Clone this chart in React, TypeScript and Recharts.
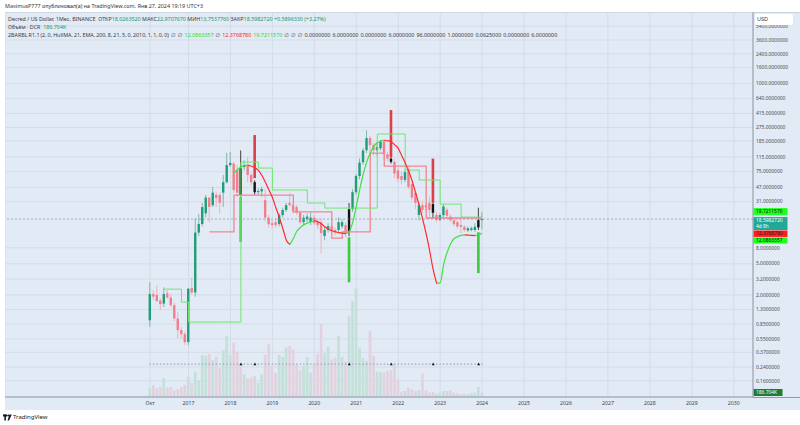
import React from 'react';
import {
  Bar,
  CartesianGrid,
  ComposedChart,
  Line,
  ReferenceLine,
  XAxis,
  YAxis,
} from 'recharts';

const FONT = '"Noto Sans", "DejaVu Sans", sans-serif';

// monthly candles, first slot .. Jan 2024 (96 bars)
const open = [
  0.95, 2.05, 2.0, 1.7, 1.55, 2.1, 1.85, 1.48, 1.0, 0.71, 0.63, 0.5,
  2.45, 2.15, 12.5, 16.1, 22, 35, 28, 38, 37.7, 40.5, 55, 91,
  95, 78.6, 83, 86, 91, 68, 55, 41, 42, 32.5, 19.4, 16.5,
  17, 16.1, 20.9, 24.3, 30, 28, 26.5, 22.5, 17, 18.5, 17, 19.4,
  17.5, 17, 11.3, 13.5, 15, 13.5, 13.5, 15, 15.6, 12.8, 24.8, 41,
  66, 99, 141, 201, 164, 141, 149, 183, 125, 110, 100, 78,
  66, 59, 80, 52, 40, 21, 28, 28, 30, 28.9, 21, 18.1,
  20.9, 24.5, 20, 18, 17, 15.6, 14.8, 13.3, 13.5, 13.5, 14.6, 18.026352,
];
const high = [
  2.9, 2.3, 2.67, 1.82, 2.5, 2.3, 2.05, 1.58, 1.2, 0.78, 0.68, 2.45,
  3.3, 19, 21.5, 30, 37.7, 35.6, 47.8, 41.5, 40.5, 68, 130, 134,
  100, 91, 140, 105, 116, 72, 58, 46, 48, 45, 21, 18,
  19, 22, 26, 30, 40, 30, 28, 24, 21, 22, 23, 21,
  19, 19, 15, 16.5, 16, 14.5, 19.5, 18.5, 17, 29.8, 45, 70,
  110, 150, 253, 215, 175, 175, 190, 195, 135, 115, 110, 85,
  75, 80, 85, 55, 42, 30, 32, 30, 36, 30, 23, 22,
  29, 26, 21.5, 19, 18, 19, 15.6, 15, 15, 16.5, 26, 22.970767,
];
const low = [
  0.78, 1.72, 1.62, 1.28, 1.4, 1.82, 1.4, 0.92, 0.56, 0.56, 0.46, 0.46,
  2.05, 1.9, 11.3, 15, 19.5, 17, 26.5, 26.5, 22, 26.5, 53, 86,
  40, 35.6, 36, 78, 55, 50, 38, 38, 36, 17.5, 14.5, 14.2,
  14.5, 15, 19.5, 23, 27, 22, 21, 16, 15.6, 17, 15.6, 15.5,
  14, 6.8, 10, 12.5, 12.5, 11.5, 12.5, 14, 11, 11.3, 23, 38,
  60, 92, 130, 130, 120, 120, 140, 105, 102, 95, 62, 55,
  52, 55, 45, 32, 25, 18, 22, 23, 19.5, 19, 17, 17.5,
  19.5, 19.5, 17, 15, 14, 12.3, 12.8, 12.8, 13, 12.8, 13.5, 13.753776,
];
const close = [
  2.05, 1.9, 1.67, 1.53, 2.05, 1.85, 1.48, 1.0, 0.71, 0.63, 0.5, 2.4,
  2.15, 12.5, 16.1, 26.5, 35, 26.5, 40.5, 34.5, 30, 55, 91, 97,
  43.7, 40.5, 37.7, 91, 68, 55, 41, 42.5, 45, 19.4, 16, 15.6,
  15.6, 20.9, 24.3, 28, 28, 23.5, 22.5, 17, 19.4, 20, 19.4, 16.5,
  15.6, 12.3, 13.5, 15.1, 13.5, 12.5, 17, 17, 12.3, 24.8, 41, 66,
  98, 140, 201, 164, 141, 155, 183, 125, 110, 100, 71, 61,
  59, 74, 48, 35, 30, 28, 24.5, 26, 24.3, 22.4, 18.1, 20.9,
  27, 20.5, 18, 16, 15, 14.8, 13.5, 14.2, 14.2, 14.8, 18.026352, 18.598272,
];
// volume, thousands
const volumeK = [
  378, 521, 378, 434, 812, 404, 434, 291, 347, 434, 521, 868,
  608, 1098, 694, 1823, 1779, 1853, 1593, 1736, 1272, 2027, 2647, 1823,
  2357, 1966, 1389, 985, 812, 838, 911, 621, 985, 1823, 2287, 1345,
  1055, 1823, 1736, 2140, 2213, 2070, 1419, 1159, 1345, 1736, 1055, 1419,
  1866, 3168, 1879, 2170, 1636, 1706, 2647, 1736, 1532, 3515, 4166, 4687,
  2140, 1680, 1562, 2864, 1779, 1098, 1098, 1055, 1128, 1159, 1419, 725,
  230, 260, 404, 334, 260, 291, 1011, 291, 187, 217, 143, 187,
  260, 260, 291, 187, 161, 117, 143, 117, 161, 187, 434, 186.704,
];
const hull = [
  null, null, null, null, null, null, null, null, null, null, null, null,
  null, null, null, null, null, null, null, null, null, null, null, null,
  72, 80, 86, 90, 91, 88, 84, 78, 67, 55, 44, 35,
  26, 19.5, 14, 10, 8.8, 10.5, 13, 14.5, 15.8, 16.5, 17.2, 17.6,
  17.2, 16.2, 14.8, 13.8, 13.2, 12.8, 12.5, 12.3, 12.1, 13, 17, 27,
  45, 70, 100, 130, 158, 175, 185, 189, 186, 181, 165, 149,
  120, 97, 76, 57, 40, 28, 18.5, 12, 7.3, 4.2, 2.8, 2.85,
  4.9, 7, 9, 10.5, 11.1, 11.5, 11.7, 11.6, 11.5, 11.45, 11.8, 12.2,
];
const upperStep = [
  null, null, null, null, 2.37, 2.37, 2.37, 2.37, 2.37, 1.62, 1.62, 0.9,
  0.9, 0.9, 0.9, 0.9, 0.9, 0.9, 0.9, 0.9, 0.9, 0.9, 0.9, 0.9,
  0.9, 0.9, 99.5, 99.5, 99.5, 99.5, 99.5, 83.4, 83.4, 83.4, 83.4, 43.7,
  43.7, 43.7, 43.7, 43.7, 43.7, 43.7, 43.7, 43.7, 43.7, 29.8, 29.8, 29.8,
  29.8, 29.8, 25.7, 25.7, 25.7, 25.7, 25.7, 25.7, 25.7, 25.7, 25.7, 25.7,
  25.7, 25.7, 25.7, 25.7, 25.7, 226.8, 226.8, 226.8, 226.8, 226.8, 226.8, 226.8,
  226.8, 78.7, 78.7, 78.7, 78.7, 58.6, 58.6, 58.6, 58.6, 58.6, 58.6, 28.9,
  28.9, 28.9, 28.9, 28.9, 28.9, 19.72, 19.72, 19.72, 19.72, 19.72, 19.72, 19.72,
];
const lowerStep = [
  null, null, null, null, null, null, null, null, null, null, null, null,
  null, null, null, null, null, 12.8, 12.8, 12.8, 12.8, 12.8, 12.8, 12.8,
  37.7, 37.7, 37.7, 37.7, 37.7, 37.7, 37.7, 37.7, 37.7, 37.7, 37.7, 37.7,
  37.7, 37.7, 37.7, 37.7, 37.7, 23, 23, 23, 23, 23, 23, 23,
  23, 23, 23, 23, 10.6, 10.6, 10.6, 12.8, 12.8, 12.8, 12.8, 12.8,
  12.8, 12.8, 12.8, 129.6, 129.6, 129.6, 129.6, 88.5, 88.5, 88.5, 88.5, 88.5,
  88.5, 88.5, 88.5, 88.5, 88.5, 88.5, 88.5, 19.2, 19.2, 19.2, 19.2, 19.2,
  19.2, 19.2, 19.2, 19.2, 19.2, 19.2, 19.2, 19.2, 19.2, 19.2, 19.2, 19.2,
];
const blackBars = [26, 30, 57, 69, 81, 94];
const greenSignals = [
  { at: 26, from: 9.5, to: 35.6 },
  { at: 57, from: 2.9, to: 10.9 },
  { at: 94, from: 3.8, to: 12.6 },
];
const redSignals = [
  { at: 30, from: 62, to: 220 },
  { at: 69, from: 115, to: 459 },
  { at: 81, from: 30, to: 110 },
];
const markerLevel = 1430;

const priceTicks = [
  5400, 3600, 2400, 1600, 1000, 640, 415, 275, 185, 115, 75, 47, 31, 8, 5, 3.2,
  2, 1.3, 0.85, 0.55, 0.37, 0.24, 0.16,
];
const timeTicks = [0, 11, 23, 35, 47, 59, 71, 83, 95, 107, 119, 131, 143, 155, 167];
const timeLabels = [
  'Окт', '2017', '2018', '2019', '2020', '2021', '2022', '2023', '2024', '2025',
  '2026', '2027', '2028', '2029', '2030',
];

const LEAD = 41;
const TRAIL = 77;

const hullUp = hull.map((v, i) => {
  if (v == null) return null;
  const p = hull[i - 1];
  const n = hull[i + 1];
  return (p != null && v >= p) || (n != null && n >= v) ? v : null;
});
const hullDown = hull.map((v, i) => {
  if (v == null) return null;
  const p = hull[i - 1];
  const n = hull[i + 1];
  return (p != null && v < p) || (n != null && n < v) ? v : null;
});

const rows: any[] = [];
for (let s = -LEAD; s < close.length + TRAIL; s++) {
  if (s < 0 || s >= close.length) {
    rows.push({ slot: s });
    continue;
  }
  const g = greenSignals.find((d) => d.at === s);
  const r = redSignals.find((d) => d.at === s);
  rows.push({
    slot: s,
    o: open[s],
    h: high[s],
    l: low[s],
    c: close[s],
    range: [low[s], high[s]],
    vol: volumeK[s],
    upper: upperStep[s],
    lower: lowerStep[s],
    hullUp: hullUp[s],
    hullDown: hullDown[s],
    marker: markerLevel,
    black: blackBars.includes(s),
    sigG: g,
    sigR: r,
  });
}

const labelOf: Record<number, string> = {};
timeTicks.forEach((t, k) => (labelOf[t] = timeLabels[k]));

const Candle = (props: any) => {
  const { x, y, width, height, payload } = props;
  if (!payload || payload.o == null || !isFinite(y) || !isFinite(height)) return <g />;
  const { o, h, l, c, black, sigG, sigR } = payload;
  const lh = Math.log(h);
  const span = lh - Math.log(l);
  const py = (v: number) => y + (height * (lh - Math.log(v))) / span;
  const cx = x + width / 2;
  const up = c >= o;
  const body = black ? '#141414' : up ? '#1f9d78' : '#f07f8b';
  const wick = black ? '#141414' : up ? '#6aa998' : '#f1a2ab';
  const top = py(Math.max(o, c));
  const bot = py(Math.min(o, c));
  return (
    <g>
      <line x1={cx} x2={cx} y1={y} y2={y + height} stroke={wick} strokeWidth={0.8} />
      <rect x={cx - 1.2} y={top} width={2.4} height={Math.max(0.8, bot - top)} fill={body} />
      {sigG && (
        <rect x={cx - 1.3} y={py(sigG.to)} width={2.6} height={py(sigG.from) - py(sigG.to)} fill="#3cc93c" />
      )}
      {sigR && (
        <rect x={cx - 1.3} y={py(sigR.to)} width={2.6} height={py(sigR.from) - py(sigR.to)} fill="#dd3f48" />
      )}
    </g>
  );
};

const VolumeBar = (props: any) => {
  const { x, y, width, height, payload } = props;
  if (!payload || payload.vol == null || !isFinite(y)) return <g />;
  const cx = x + width / 2;
  return (
    <rect
      x={cx - 1.35}
      y={y}
      width={2.7}
      height={height}
      fill={payload.c >= payload.o ? '#c3e1d8' : '#e2d2df'}
    />
  );
};

const MarkerDot = (props: any) => {
  const { cx, cy, payload, index } = props;
  if (cx == null || cy == null || !payload || payload.marker == null) return <g key={index} />;
  const dark = payload.black;
  const s = dark ? 1.5 : 1.1;
  return (
    <polygon
      key={index}
      points={`${cx},${cy - s} ${cx - s},${cy + s * 0.8} ${cx + s},${cy + s * 0.8}`}
      fill={dark ? '#151515' : '#a9b1bd'}
    />
  );
};

const PriceTag = ({ viewBox, text, sub, bg, fg, dy, h, w }: any) => {
  if (!viewBox) return null;
  const x = viewBox.x + viewBox.width + 0.5;
  const top = viewBox.y + dy;
  return (
    <g>
      <rect x={x} y={top} width={w} height={h} fill={bg} />
      <text x={x + 2.5} y={top + 4.9} fontSize={4.9} fill={fg} fontFamily={FONT}>
        {text}
      </text>
      {sub && (
        <text x={x + 2.5} y={top + 11} fontSize={4.9} fill={fg} fontFamily={FONT}>
          {sub}
        </text>
      )}
    </g>
  );
};

const G = ({ children }: any) => <span style={{ color: '#17996f' }}>{children}</span>;

export default function App() {
  return (
    <div
      style={{
        position: 'absolute',
        left: 0,
        top: 0,
        width: 800,
        height: 425,
        background: '#ffffff',
        fontFamily: FONT,
        overflow: 'hidden',
      }}
    >
      <div style={{ position: 'absolute', left: 5, top: 2, fontSize: 5.4, color: '#333', whiteSpace: 'nowrap' }}>
        MaximusP777 опубликовал(а) на TradingView.com, Янв 27, 2024 19:19 UTC+3
      </div>
      <div
        style={{
          position: 'absolute',
          left: 5,
          top: 12,
          width: 795,
          height: 398,
          background: '#e2eaf6',
          borderTop: '1px solid #c9d1dd',
          boxSizing: 'border-box',
        }}
      />
      <div style={{ position: 'absolute', left: 5, top: 12 }}>
        <ComposedChart
          width={795}
          height={398}
          data={rows}
          margin={{ top: 0, right: 0, bottom: 0, left: 0 }}
          barCategoryGap={0}
          barGap={0}
        >
          <CartesianGrid xAxisId="p" yAxisId="p" stroke="#d4dce8" strokeWidth={1} />
          <XAxis
            xAxisId="p"
            dataKey="slot"
            type="category"
            ticks={timeTicks}
            interval={0}
            tickFormatter={(v: number) => labelOf[v] ?? ''}
            height={13}
            tickSize={0}
            tickMargin={4}
            tickLine={false}
            axisLine={{ stroke: '#8e98a6' }}
            tick={{ fontSize: 5.2, fill: '#444' }}
          />
          <XAxis xAxisId="v" dataKey="slot" type="category" hide />
          <YAxis
            yAxisId="p"
            orientation="right"
            scale="log"
            domain={[0.0994, 8202]}
            allowDataOverflow
            ticks={priceTicks}
            interval={0}
            width={47}
            tickSize={0}
            tickMargin={3}
            tickLine={false}
            axisLine={{ stroke: '#8e98a6' }}
            tickFormatter={(v: number) => v.toFixed(7)}
            tick={{ fontSize: 4.9, fill: '#4a4a4a' }}
          />
          <YAxis yAxisId="v" hide domain={[0, 16666]} allowDataOverflow />
          <Bar
            xAxisId="v"
            yAxisId="v"
            dataKey="vol"
            shape={VolumeBar}
            isAnimationActive={false}
          />
          <Line
            xAxisId="v"
            yAxisId="v"
            dataKey="marker"
            stroke="none"
            dot={MarkerDot}
            activeDot={false}
            isAnimationActive={false}
          />
          <Bar xAxisId="p" yAxisId="p" dataKey="range" shape={Candle} isAnimationActive={false} />
          <Line
            xAxisId="p"
            yAxisId="p"
            dataKey="lower"
            type="stepAfter"
            stroke="#f3858f"
            strokeWidth={1.3}
            dot={false}
            isAnimationActive={false}
          />
          <Line
            xAxisId="p"
            yAxisId="p"
            dataKey="upper"
            type="stepAfter"
            stroke="#6be86b"
            strokeWidth={1}
            dot={false}
            isAnimationActive={false}
          />
          <Line
            xAxisId="p"
            yAxisId="p"
            dataKey="hullUp"
            type="monotone"
            stroke="#3fe23f"
            strokeWidth={1.2}
            dot={false}
            isAnimationActive={false}
          />
          <Line
            xAxisId="p"
            yAxisId="p"
            dataKey="hullDown"
            type="monotone"
            stroke="#ff2b2b"
            strokeWidth={1.2}
            dot={false}
            isAnimationActive={false}
          />
          <ReferenceLine
            xAxisId="p"
            yAxisId="p"
            y={19.721157}
            stroke="none"
            label={(p: any) => (
              <PriceTag viewBox={p.viewBox} text="19.7211570" bg="#1fff1f" fg="#111" dy={-9} h={7} w={34} />
            )}
          />
          <ReferenceLine
            xAxisId="p"
            yAxisId="p"
            y={18.598272}
            stroke="#8a95a6"
            strokeWidth={0.7}
            strokeDasharray="2 2"
            label={(p: any) => (
              <PriceTag viewBox={p.viewBox} text="18.5982720" sub="4d 8h" bg="#22a894" fg="#f4fffc" dy={-2} h={13} w={34} />
            )}
          />
          <ReferenceLine
            xAxisId="p"
            yAxisId="p"
            y={12.376878}
            stroke="none"
            label={(p: any) => (
              <PriceTag viewBox={p.viewBox} text="12.3768780" bg="#ff1e1e" fg="#222" dy={-2.4} h={6.4} w={34} />
            )}
          />
          <ReferenceLine
            xAxisId="p"
            yAxisId="p"
            y={12.0863357}
            stroke="none"
            label={(p: any) => (
              <PriceTag viewBox={p.viewBox} text="12.0863357" bg="#1fff1f" fg="#111" dy={3.8} h={6} w={34} />
            )}
          />
          <ReferenceLine
            xAxisId="v"
            yAxisId="v"
            y={186.704}
            stroke="none"
            label={(p: any) => (
              <PriceTag viewBox={p.viewBox} text="186.704K" bg="#1e7b2f" fg="#ffffff" dy={-3.7} h={7} w={29} />
            )}
          />
        </ComposedChart>
      </div>
      <div style={{ position: 'absolute', left: 753, top: 397, width: 47, height: 1, background: '#8e98a6' }} />
      <div
        style={{
          position: 'absolute',
          left: 755,
          top: 14,
          width: 38,
          height: 11,
          background: '#ffffff',
          borderRadius: 2,
          fontSize: 5.5,
          color: '#333',
          lineHeight: '11px',
          paddingLeft: 2,
          boxSizing: 'border-box',
        }}
      >
        USD
      </div>
      <div style={{ position: 'absolute', left: 8, top: 15, fontSize: 5.35, color: '#3a3a3a', whiteSpace: 'nowrap', lineHeight: '8px' }}>
        <div>
          Decred / US Dollar, 1Мес, BINANCE&nbsp;&nbsp;ОТКР<G>18.0263520</G> МАКС<G>22.9707670</G> МИН<G>13.7537760</G> ЗАКР
          <G>18.5982720</G> <G>+0.5896330 (+3.27%)</G>
        </div>
        <div>
          Объём · DCR&nbsp;&nbsp;<G>186.704K</G>
        </div>
        <div style={{ wordSpacing: '-0.35px' }}>
          2BARBL R1.1 (2, 0, HullMA, 21, EMA, 200, 8, 21, 5, 0, 2010, 1, 1, 0, 0)&nbsp;&nbsp;∅&nbsp;&nbsp;∅&nbsp;&nbsp;
          <span style={{ color: '#1edc1e' }}>12.0863357</span>&nbsp;&nbsp;∅&nbsp;&nbsp;
          <span style={{ color: '#ff2020' }}>12.3768780</span>&nbsp;&nbsp;
          <span style={{ color: '#2fd92f' }}>19.7211570</span>&nbsp;&nbsp;∅&nbsp;&nbsp;∅&nbsp;&nbsp;∅&nbsp;&nbsp;0.0000000&nbsp;&nbsp;6.0000000&nbsp;&nbsp;0.0000000&nbsp;&nbsp;6.0000000&nbsp;&nbsp;96.0000000&nbsp;&nbsp;1.0000000&nbsp;&nbsp;0.0625000&nbsp;&nbsp;0.0000000&nbsp;&nbsp;6.0000000
        </div>
      </div>
      <svg width={9} height={7} style={{ position: 'absolute', left: 3, top: 414, display: 'block' }}>
        <rect x={0} y={0.5} width={4} height={2} fill="#131722" />
        <rect x={1.3} y={0.5} width={1.6} height={6} fill="#131722" />
        <circle cx={5.2} cy={1.5} r={1} fill="#131722" />
        <polygon points="6,6.5 8.8,0.5 6.5,0.5 4.5,6.5" fill="#131722" />
      </svg>
      <div style={{ position: 'absolute', left: 13, top: 413, fontSize: 6, color: '#131722', lineHeight: '8px' }}>
        TradingView
      </div>
    </div>
  );
}
